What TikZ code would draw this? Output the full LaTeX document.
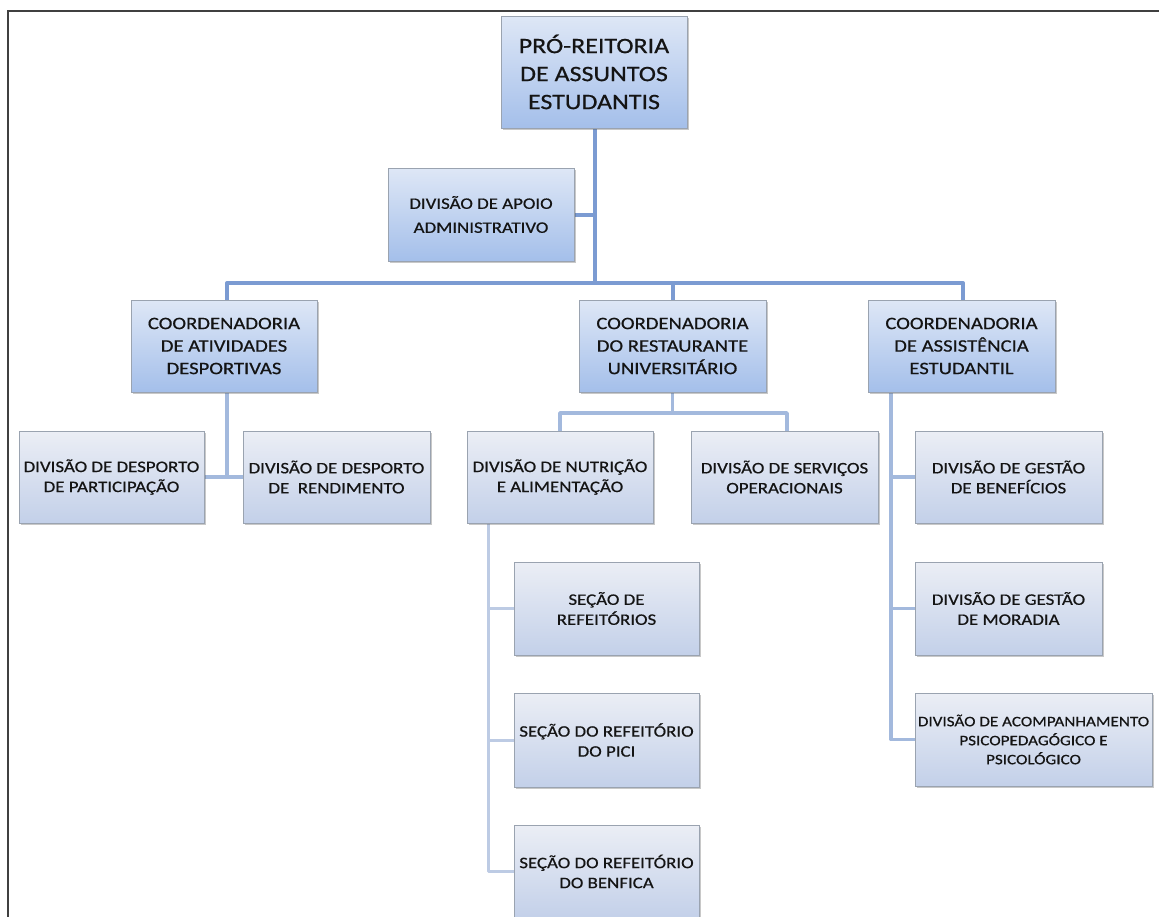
\documentclass[tikz,border=0pt]{standalone}
\usepackage{fontspec}
\setmainfont[FakeStretch=1.18,FakeBold=0.6]{Carlito}
\usetikzlibrary{shadows}
\definecolor{uptop}{HTML}{DEE7F6}
\definecolor{upbot}{HTML}{A4BFEA}
\definecolor{lotop}{HTML}{EBEEF5}
\definecolor{lobot}{HTML}{C3D0E9}
\definecolor{boxedge}{HTML}{9AA3B0}
\definecolor{mainline}{HTML}{7B9BD2}
\definecolor{subline}{HTML}{A3B9DD}
\definecolor{secline}{HTML}{BDCBE4}
\definecolor{txt}{HTML}{141414}
\definecolor{framec}{HTML}{404040}
\pgfdeclarelayer{bg}
\pgfsetlayers{bg,main}
\tikzset{
  box/.style={rectangle, draw=boxedge, line width=0.6pt, inner sep=0pt,
    align=center, text=txt,
    drop shadow={shadow xshift=1.5pt, shadow yshift=-1.5pt, opacity=0.3, fill=black!70}},
  upper/.style={box, top color=uptop, bottom color=upbot},
  lower/.style={box, top color=lotop, bottom color=lobot},
  wbox/.style={minimum width=186pt, minimum height=92pt},
  topfont/.style={font=\fontsize{22}{28}\selectfont},
  midfont/.style={font=\fontsize{17.5}{22.5}\selectfont},
  lowfont/.style={font=\fontsize{16}{20}\selectfont},
  smallfont/.style={font=\fontsize{14.5}{19}\selectfont},
  trunk/.style={draw=mainline, line width=4pt, line join=round},
  subl/.style={draw=subline, line width=3.5pt, line join=round},
  secl/.style={draw=secline, line width=3pt, line join=round},
  framel/.style={draw=framec, line width=1.6pt}
}
\begin{document}
\begin{tikzpicture}[x=1pt,y=-1pt]
\useasboundingbox (0,0) rectangle (1159,916);
\begin{pgfonlayer}{bg}
  \fill[white] (0,0) rectangle (1159,916);
\end{pgfonlayer}
\draw[framel] (8,918) -- (8,11) -- (1160,11);

% boxes
\node[upper, topfont, minimum width=186pt, minimum height=112pt] (pro) at (594,72)
  {PRÓ-REITORIA\\DE ASSUNTOS\\ESTUDANTIS};
\node[upper, lowfont, minimum width=186pt, minimum height=93pt] (apoio) at (481,214.5)
  {DIVISÃO DE APOIO\\[4pt]ADMINISTRATIVO};
\node[upper, midfont, wbox] (cad) at (224,346)
  {COORDENADORIA\\DE ATIVIDADES\\DESPORTIVAS};
\node[upper, midfont, wbox, minimum width=187pt] (cru) at (672.5,346)
  {COORDENADORIA\\DO RESTAURANTE\\UNIVERSITÁRIO};
\node[upper, midfont, wbox, minimum width=187pt] (cae) at (961.5,346)
  {COORDENADORIA\\DE ASSISTÊNCIA\\ESTUDANTIL};

\node[lower, lowfont, wbox, minimum width=185pt] (dpart) at (111.5,477)
  {DIVISÃO DE DESPORTO\\DE PARTICIPAÇÃO};
\node[lower, lowfont, wbox, minimum width=187pt] (drend) at (336.5,477)
  {DIVISÃO DE DESPORTO\\DE\ \ RENDIMENTO};
\node[lower, lowfont, wbox] (dnut) at (560,477)
  {DIVISÃO DE NUTRIÇÃO\\E ALIMENTAÇÃO};
\node[lower, lowfont, wbox, minimum width=187pt] (dserv) at (784.5,477)
  {DIVISÃO DE SERVIÇOS\\OPERACIONAIS};
\node[lower, lowfont, wbox, minimum width=187pt] (dben) at (1008.5,477)
  {DIVISÃO DE GESTÃO\\DE BENEFÍCIOS};
\node[lower, lowfont, wbox, minimum width=187pt, minimum height=93pt] (dmor) at (1008.5,608.5)
  {DIVISÃO DE GESTÃO\\DE MORADIA};
\node[lower, smallfont, minimum width=237pt, minimum height=93pt] (dacomp) at (1033.5,739.5)
  {DIVISÃO DE ACOMPANHAMENTO\\PSICOPEDAGÓGICO E\\PSICOLÓGICO};

\node[lower, lowfont, wbox, minimum width=185pt, minimum height=93pt] (sref) at (606.5,608.5)
  {SEÇÃO DE\\REFEITÓRIOS};
\node[lower, lowfont, wbox, minimum width=185pt, minimum height=94pt] (spici) at (606.5,740)
  {SEÇÃO DO REFEITÓRIO\\DO PICI};
\node[lower, lowfont, wbox, minimum width=185pt, minimum height=93pt] (sbenf) at (606.5,871.5)
  {SEÇÃO DO REFEITÓRIO\\DO BENFICA};

% helper coordinates
\coordinate (barY) at (0,283);
\coordinate (subY) at (0,413);
\coordinate (trunkX) at (595,0);
\coordinate (nutX) at (488,0);
\coordinate (caeX) at (891,0);
\coordinate (cadX) at (227,0);

\begin{pgfonlayer}{bg}
  % main trunk
  \draw[trunk] (pro.south -| trunkX) -- (trunkX |- barY);
  \draw[trunk] (apoio.east) -- (apoio.east -| trunkX);
  \draw[trunk] (cadX |- cad.north) -- (cadX |- barY) -- ([xshift=1.5pt]cae.north |- barY) -- ([xshift=1.5pt]cae.north);
  \draw[trunk] (cru.north) -- (cru.north |- barY);
  % atividades desportivas
  \draw[subl] (cadX |- cad.south) -- (cadX |- dpart.east);
  \draw[subl] (dpart.east) -- (drend.west);
  % restaurante
  \draw[subl] (cru.south) -- (cru.south |- subY);
  \draw[subl] (dnut.north) -- (dnut.north |- subY) -- ([xshift=2.5pt]dserv.north |- subY) -- ([xshift=2.5pt]dserv.north);
  % nutricao
  \draw[secl] (nutX |- dnut.south) -- (nutX |- sbenf.west) -- (sbenf.west);
  \draw[secl] (nutX |- sref.west) -- (sref.west);
  \draw[secl] (nutX |- spici.west) -- (spici.west);
  % assistencia
  \draw[subl] (caeX |- cae.south) -- (caeX |- dacomp.west) -- (dacomp.west);
  \draw[subl] (caeX |- dben.west) -- (dben.west);
  \draw[subl] (caeX |- dmor.west) -- (dmor.west);
\end{pgfonlayer}
\end{tikzpicture}
\end{document}
